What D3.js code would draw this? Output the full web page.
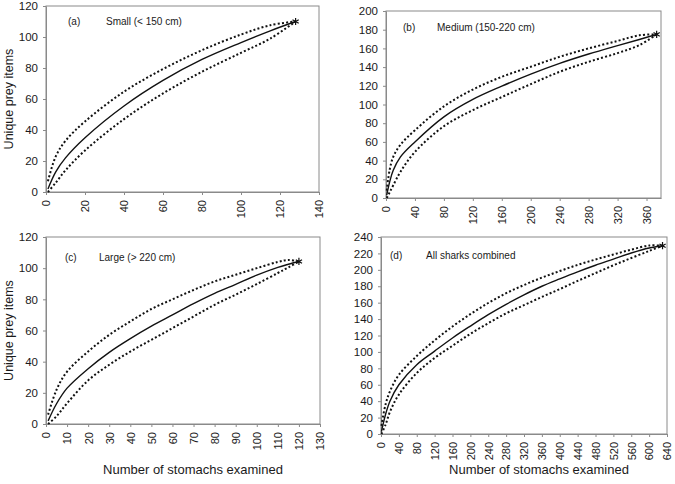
<!DOCTYPE html>
<html>
<head>
<meta charset="utf-8">
<script src="https://cdn.jsdelivr.net/npm/d3@7"></script>
<style>
  html, body { margin: 0; padding: 0; background: #fff; }
  svg { display: block; font-family: "Liberation Sans", Arial, sans-serif; }
</style>
</head>
<body>
<svg id="chart" width="675" height="484"></svg>
<script>
// ---------- Data ----------
// (a) Small (< 150 cm)
const aX     = [1, 5, 10, 20, 40, 60, 80, 100, 115, 128];
const aMean  = [2, 13, 22, 35, 55.5, 72, 85.5, 96.4, 104, 110];
const aUpper = [7, 23, 33, 45.5, 64.7, 79.3, 91.5, 101.6, 107.6, 110];
const aLower = [0, 6, 14, 26.8, 47, 63.6, 77.6, 89.8, 99, 110];
const aXTicks = [0, 20, 40, 60, 80, 100, 120, 140];
const aYTicks = [0, 20, 40, 60, 80, 100, 120];

// (b) Medium (150-220 cm)
const bX     = [1, 5, 10, 20, 40, 80, 120, 160, 200, 240, 280, 320, 350, 374];
const bMean  = [3, 17, 29.6, 44, 60, 86.8, 105.4, 119.6, 132.5, 144, 154, 163, 169.5, 175];
const bUpper = [8, 30, 44, 57, 72.5, 98, 116, 129.6, 140.4, 151, 160, 168, 174, 175];
const bLower = [0, 6, 13.6, 28, 49.3, 76.8, 94, 108, 121.8, 135, 145.7, 155, 163.5, 175];
const bXTicks = [0, 40, 80, 120, 160, 200, 240, 280, 320, 360];
const bYTicks = [0, 20, 40, 60, 80, 100, 120, 140, 160, 180, 200];

// (c) Large (> 220 cm)
const cX     = [1, 5, 10, 20, 30, 40, 50, 60, 70, 80, 90, 100, 110, 115, 120];
const cMean  = [2, 13, 23, 35.5, 46, 54.8, 62.8, 70, 77.2, 83.8, 89.6, 95.5, 100.5, 102.5, 104.3];
const cUpper = [6, 22, 33.6, 46.5, 57.2, 65.8, 73.8, 80, 86, 91.5, 95.8, 100, 104, 105.2, 104.3];
const cLower = [0, 5, 13.3, 28, 38, 46.5, 54, 61.5, 69, 76.5, 83, 89.8, 96.9, 100.5, 104.3];
const cXTicks = [0, 10, 20, 30, 40, 50, 60, 70, 80, 90, 100, 110, 120, 130];
const cYTicks = [0, 20, 40, 60, 80, 100, 120];

// (d) All sharks combined
const dX     = [1, 10, 20, 40, 80, 120, 160, 200, 240, 280, 320, 360, 400, 440, 480, 520, 560, 600, 630];
const dMean  = [3, 23.5, 40, 60, 84.5, 101, 117, 131.5, 145.4, 158, 169.5, 180, 189, 197.6, 205.6, 213, 220.5, 226.6, 229.4];
const dUpper = [10, 35.7, 52, 72, 95, 114, 131, 146, 159.6, 171.5, 181.5, 190.5, 198.5, 206, 212.6, 218.7, 224.6, 229.6, 229.4];
const dLower = [0, 11, 27, 48, 74.3, 92.6, 107.5, 122, 135, 147, 157, 167, 176.5, 186.5, 196, 205.5, 214.4, 223, 229.4];
const dXTicks = [0, 40, 80, 120, 160, 200, 240, 280, 320, 360, 400, 440, 480, 520, 560, 600, 640];
const dYTicks = [0, 20, 40, 60, 80, 100, 120, 140, 160, 180, 200, 220, 240];

const panelLetters = ["(a)", "(b)", "(c)", "(d)"];
const panelTitles  = ["Small (< 150 cm)", "Medium (150-220 cm)", "Large (> 220 cm)", "All sharks combined"];
const xAxisTitle = "Number of stomachs examined";
const yAxisTitle = "Unique prey items";

// ---------- Layout ----------
const panels = [
  { x: aX, mean: aMean, up: aUpper, lo: aLower, xt: aXTicks, yt: aYTicks, xd: [0, 140], yd: [0, 120],
    L: 46, R: 319, T: 6, B: 192, lx: 68, tx: 106, ty: 25, yTitle: true, xTitle: false, titleX: 0 },
  { x: bX, mean: bMean, up: bUpper, lo: bLower, xt: bXTicks, yt: bYTicks, xd: [0, 380], yd: [0, 200],
    L: 386, R: 661, T: 11, B: 198, lx: 403, tx: 437, ty: 31, yTitle: false, xTitle: false, titleX: 0 },
  { x: cX, mean: cMean, up: cUpper, lo: cLower, xt: cXTicks, yt: cYTicks, xd: [0, 130], yd: [0, 120],
    L: 46, R: 320, T: 237, B: 424, lx: 65, tx: 99, ty: 261, yTitle: true, xTitle: true, titleX: 193 },
  { x: dX, mean: dMean, up: dUpper, lo: dLower, xt: dXTicks, yt: dYTicks, xd: [0, 640], yd: [0, 240],
    L: 381, R: 667, T: 237, B: 434, lx: 390, tx: 426, ty: 259, yTitle: false, xTitle: true, titleX: 539 }
];

const svg = d3.select("#chart");
const axisColor = "#8a8a8a";
const textColor = "#1a1a1a";

panels.forEach((p, i) => {
  const xs = d3.scaleLinear().domain(p.xd).range([p.L, p.R]);
  const ys = d3.scaleLinear().domain(p.yd).range([p.B, p.T]);
  const g = svg.append("g");

  // Box
  g.append("rect")
    .attr("x", p.L).attr("y", p.T)
    .attr("width", p.R - p.L).attr("height", p.B - p.T)
    .attr("fill", "none").attr("stroke", axisColor).attr("stroke-width", 1);

  // Y axis
  const ya = g.append("g").attr("transform", `translate(${p.L},0)`)
    .call(d3.axisLeft(ys).tickValues(p.yt).tickSize(3).tickSizeOuter(0).tickPadding(5));
  ya.select(".domain").attr("stroke", axisColor);
  ya.selectAll(".tick line").attr("stroke", axisColor);
  ya.selectAll(".tick text").attr("fill", textColor)
    .style("font-size", "11.5px").style("font-family", "Liberation Sans, Arial, sans-serif");

  // X axis
  const xa = g.append("g").attr("transform", `translate(0,${p.B})`)
    .call(d3.axisBottom(xs).tickValues(p.xt).tickSize(3).tickSizeOuter(0));
  xa.select(".domain").attr("stroke", axisColor);
  xa.selectAll(".tick line").attr("stroke", axisColor);
  xa.selectAll(".tick text")
    .attr("fill", textColor)
    .attr("y", 0).attr("x", -8).attr("dy", "0.35em")
    .attr("transform", "rotate(-90)")
    .style("text-anchor", "end")
    .style("font-size", "11px").style("font-family", "Liberation Sans, Arial, sans-serif");

  const line = (vals) => d3.line()
    .x((d, k) => xs(p.x[k]))
    .y(d => ys(d))
    .curve(d3.curveCatmullRom.alpha(0.5))(vals);

  // Bounds (dotted)
  [p.up, p.lo].forEach(vals => {
    g.append("path").attr("d", line(vals))
      .attr("fill", "none").attr("stroke", "#111")
      .attr("stroke-width", 2).attr("stroke-dasharray", "2,2.2");
  });
  // Mean (solid)
  g.append("path").attr("d", line(p.mean))
    .attr("fill", "none").attr("stroke", "#111").attr("stroke-width", 1.4);

  // End marker (asterisk)
  const n = p.x.length - 1;
  const ex = xs(p.x[n]), ey = ys(p.mean[n]);
  g.append("path")
    .attr("d", d3.symbol().type(d3.symbolAsterisk || d3.symbolCross).size(36)())
    .attr("transform", `translate(${ex},${ey})`)
    .attr("fill", "none").attr("stroke", "#111").attr("stroke-width", 1.2);

  // Panel label & title
  g.append("text").attr("x", p.lx).attr("y", p.ty).text(panelLetters[i])
    .attr("fill", textColor).style("font-size", "10px");
  g.append("text").attr("x", p.tx).attr("y", p.ty).text(panelTitles[i])
    .attr("fill", textColor).style("font-size", "10px");

  if (p.yTitle) {
    g.append("text")
      .attr("transform", `translate(13,${(p.T + p.B) / 2}) rotate(-90)`)
      .attr("text-anchor", "middle")
      .attr("fill", textColor).style("font-size", "12.5px")
      .text(yAxisTitle);
  }
  if (p.xTitle) {
    g.append("text")
      .attr("x", p.titleX).attr("y", 474)
      .attr("text-anchor", "middle")
      .attr("fill", textColor).style("font-size", "13px")
      .text(xAxisTitle);
  }
});
</script>
</body>
</html>
